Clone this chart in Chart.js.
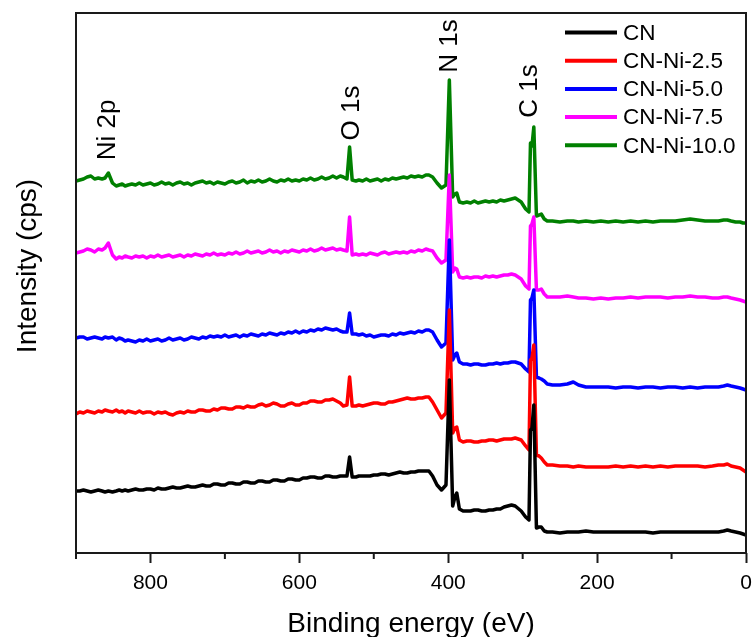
<!DOCTYPE html>
<html>
<head>
<meta charset="utf-8">
<title>XPS survey spectra</title>
<script src="https://cdn.jsdelivr.net/npm/chart.js@4/dist/chart.umd.min.js"></script>
<style>
  html, body { margin: 0; padding: 0; background: #ffffff; }
  #wrap { width: 753px; height: 637px; }
</style>
</head>
<body>
<div id="wrap"><canvas id="xps" width="753" height="637"></canvas></div>
<script>
// Binding energy grid (eV), shared by every spectrum
const bindingEnergy = [
  900, 895, 890, 885, 880, 875, 870, 865, 861, 856.5,
  851, 846, 842, 838, 834, 830, 825, 820, 815, 810,
  805, 800, 795, 790, 785, 780, 775, 770, 765, 760,
  755, 750, 745, 740, 735, 730, 725, 720, 715, 710,
  705, 700, 695, 690, 685, 680, 675, 670, 665, 660,
  655, 650, 645, 640, 635, 630, 625, 620, 615, 610,
  605, 600, 595, 590, 585, 580, 575, 570, 565, 560,
  555, 550, 545, 541, 536, 532.5, 529, 524, 520, 515,
  510, 505, 500, 495, 490, 485, 480, 475, 470, 465,
  460, 455, 450, 445, 440, 435, 430, 426, 421, 415,
  409, 403, 398.5, 394, 391, 388.5, 385, 380, 375, 370,
  365, 360, 355, 350, 345, 340, 335, 330, 325, 320,
  315, 310, 302, 296, 291.5, 289.5, 287.5, 285, 281.5, 278,
  275, 271, 267, 260, 250, 240, 232, 225, 215, 205,
  195, 185, 175, 165, 155, 145, 135, 125, 115, 105,
  95, 85, 75, 65, 55, 45, 37, 30, 25, 20,
  14, 8, 4, 0
];

// Intensities (arbitrary units, spectra stacked with offsets)
const cnCounts = [
  62, 62, 63, 62, 61, 62, 63, 62, 61, 62,
  61, 62, 63, 62, 63, 62, 63, 64, 63, 63,
  64, 64, 63, 65, 64, 64, 65, 66, 65, 65,
  66, 67, 66, 66, 67, 68, 67, 67, 69, 69,
  68, 68, 70, 70, 69, 69, 71, 71, 70, 70,
  72, 72, 71, 71, 73, 73, 72, 72, 74, 74,
  73, 73, 75, 75, 76, 76, 75, 75, 77, 77,
  76, 76, 77, 77, 77, 96, 76, 76, 77, 77,
  77, 77, 78, 78, 79, 79, 78, 79, 80, 81,
  80, 80, 81, 81, 82, 82, 82, 82, 77, 68,
  63, 68, 173, 47, 56, 60, 44, 42, 42, 42,
  43, 43, 42, 42, 43, 43, 44, 44, 46, 47,
  48, 47, 42, 36, 33, 123, 125, 148, 25, 26,
  26, 22, 21, 21, 20, 21, 21, 21, 22, 21,
  21, 21, 21, 21, 21, 21, 21, 20, 21, 21,
  21, 21, 21, 21, 21, 21, 21, 22, 23, 22,
  21, 20, 19, 18
];
const cnNi25Counts = [
  139, 141, 140, 142, 141, 140, 142, 141, 143, 142,
  141, 143, 141, 142, 140, 142, 141, 140, 142, 140,
  141, 141, 139, 141, 140, 141, 139, 138, 140, 141,
  140, 142, 141, 141, 143, 143, 142, 142, 144, 143,
  145, 145, 144, 144, 146, 146, 145, 147, 146, 146,
  148, 149, 147, 148, 150, 149, 147, 147, 149, 150,
  148, 148, 150, 150, 152, 152, 151, 151, 153, 153,
  154, 152, 150, 147, 148, 176, 147, 147, 148, 147,
  148, 149, 150, 150, 149, 149, 151, 151, 152, 153,
  154, 155, 154, 154, 155, 155, 156, 156, 151, 143,
  135, 140, 243, 120, 125, 126, 113, 111, 112, 112,
  111, 111, 112, 112, 113, 113, 112, 113, 114, 114,
  114, 115, 113, 107, 103, 193, 195, 208, 98, 97,
  95, 91, 88, 88, 87, 87, 86, 87, 86, 86,
  86, 86, 87, 86, 87, 86, 87, 86, 87, 86,
  87, 87, 87, 87, 86, 87, 88, 88, 89, 87,
  86, 85, 83, 81
];
const cnNi50Counts = [
  215, 216, 216, 214, 215, 216, 215, 214, 216, 215,
  216, 213, 215, 214, 212, 213, 212, 211, 213, 212,
  214, 212, 213, 214, 212, 213, 215, 213, 214, 215,
  213, 214, 216, 215, 214, 216, 215, 217, 216, 217,
  216, 218, 216, 217, 218, 216, 218, 217, 219, 218,
  217, 219, 218, 220, 219, 218, 220, 219, 221, 220,
  222, 220, 222, 221, 223, 222, 224, 223, 225, 224,
  223, 224, 222, 221, 221, 240, 219, 219, 218, 219,
  217, 218, 216, 217, 218, 218, 217, 219, 218, 220,
  219, 220, 221, 220, 222, 221, 223, 223, 221, 213,
  206, 210, 313, 193, 198, 200, 191, 189, 189, 188,
  189, 189, 188, 188, 189, 189, 190, 189, 190, 190,
  191, 191, 189, 184, 181, 253, 255, 263, 176, 175,
  174, 172, 169, 168, 168, 169, 171, 168, 166, 166,
  166, 166, 165, 166, 166, 165, 166, 166, 165, 166,
  166, 165, 166, 165, 166, 166, 166, 167, 168, 167,
  166, 165, 164, 163
];
const cnNi75Counts = [
  300, 301, 302, 304, 303, 301, 304, 303, 305, 310,
  298, 294, 296, 295, 297, 296, 295, 297, 296, 297,
  295, 297, 296, 298, 296, 297, 298, 296, 297, 298,
  296, 298, 297, 299, 298, 297, 299, 298, 300, 298,
  299, 298, 300, 299, 301, 299, 300, 302, 300, 301,
  302, 300, 301, 303, 301, 302, 300, 302, 301, 303,
  302, 301, 303, 302, 304, 302, 303, 305, 303, 304,
  305, 303, 304, 303, 302, 336, 298, 299, 298, 299,
  298, 300, 299, 298, 300, 301, 299, 300, 301, 300,
  301, 300, 302, 301, 303, 302, 304, 303, 302, 295,
  290, 293, 378, 281, 285, 284, 276, 275, 276, 275,
  276, 276, 275, 277, 276, 277, 276, 277, 278, 278,
  279, 278, 274, 267, 264, 327, 329, 336, 263, 263,
  264, 259, 256, 256, 256, 257, 256, 255, 255, 254,
  255, 254, 255, 255, 256, 255, 256, 256, 256, 255,
  256, 256, 257, 256, 256, 255, 255, 256, 256, 255,
  254, 253, 252, 251
];
const cnNi100Counts = [
  372, 373, 374, 376, 377, 374, 375, 374, 375, 380,
  370, 367, 368, 369, 367, 368, 369, 368, 370, 368,
  369, 370, 368, 369, 371, 369, 370, 368, 370, 371,
  369, 370, 368, 370, 371, 372, 370, 371, 369, 371,
  370, 369, 371, 372, 370, 371, 373, 370, 372, 371,
  373, 371, 372, 374, 372, 371, 373, 372, 374, 372,
  373, 372, 374, 373, 375, 373, 374, 376, 374, 375,
  377, 375, 377, 376, 374, 406, 373, 372, 373, 372,
  374, 372, 373, 374, 372, 374, 373, 375, 374, 375,
  376, 375, 377, 376, 377, 376, 378, 378, 376, 370,
  365, 368, 473, 356, 359, 360, 351, 350, 351, 350,
  352, 350, 351, 352, 351, 352, 351, 353, 352, 353,
  354, 355, 351, 344, 341, 410, 407, 426, 337, 338,
  339, 334, 332, 332, 331, 332, 332, 331, 332, 331,
  332, 331, 332, 331, 332, 331, 332, 331, 332, 332,
  332, 333, 334, 333, 332, 332, 332, 333, 333, 332,
  331, 331, 330, 330
];

const seriesNames = ['CN', 'CN-Ni-2.5', 'CN-Ni-5.0', 'CN-Ni-7.5', 'CN-Ni-10.0'];
const seriesCounts = [cnCounts, cnNi25Counts, cnNi50Counts, cnNi75Counts, cnNi100Counts];
const seriesColors = ['#000000', '#ff0000', '#0000ff', '#ff00ff', '#008000'];

seriesCounts.forEach((arr, i) => {
  if (arr.length !== bindingEnergy.length) {
    throw new Error(seriesNames[i] + ': ' + arr.length + ' values for ' + bindingEnergy.length + ' energies');
  }
});

// Core-level labels: text, binding energy and height where the label is centred
const peakLabels = [
  { text: 'Ni 2p', energy: 857, level: 423 },
  { text: 'O 1s',  energy: 529, level: 440 },
  { text: 'N 1s',  energy: 397.5, level: 507 },
  { text: 'C 1s',  energy: 290, level: 462 }
];

const FONT = '"Liberation Sans", Arial, Helvetica, sans-serif';

const datasets = seriesNames.map((name, i) => ({
  label: name,
  data: bindingEnergy.map((e, k) => ({ x: e, y: seriesCounts[i][k] })),
  borderColor: seriesColors[i],
  backgroundColor: seriesColors[i],
  borderWidth: 3.5,
  pointRadius: 0,
  tension: 0,
  borderJoinStyle: 'round',
  // later samples are painted over earlier ones
  order: i + 1
}));

const decorPlugin = {
  id: 'decor',
  afterDraw(chart) {
    const { ctx, chartArea: a, scales } = chart;
    const xs = scales.x, ys = scales.y;
    ctx.save();

    // minor ticks on the energy axis
    ctx.strokeStyle = '#1a1a1a';
    ctx.lineWidth = 2;
    ctx.beginPath();
    xs.ticks.forEach(t => {
      if (t.value % 200 !== 0) {
        const px = xs.getPixelForValue(t.value);
        ctx.moveTo(px, a.bottom);
        ctx.lineTo(px, a.bottom + 6);
      }
    });
    ctx.stroke();

    // frame
    ctx.strokeRect(a.left, a.top, a.right - a.left, a.bottom - a.top);

    ctx.fillStyle = '#000000';

    // axis titles
    ctx.font = '28px ' + FONT;
    ctx.textAlign = 'center';
    ctx.textBaseline = 'middle';
    ctx.fillText('Binding energy (eV)', (a.left + a.right) / 2, 624);
    ctx.save();
    ctx.translate(28, 266);
    ctx.rotate(-Math.PI / 2);
    ctx.fillText('Intensity (cps)', 0, 0);
    ctx.restore();

    // core-level labels
    ctx.font = '26px ' + FONT;
    peakLabels.forEach(p => {
      ctx.save();
      ctx.translate(xs.getPixelForValue(p.energy), ys.getPixelForValue(p.level));
      ctx.rotate(-Math.PI / 2);
      ctx.fillText(p.text, 0, 0);
      ctx.restore();
    });

    // legend
    ctx.font = '22.5px ' + FONT;
    ctx.textAlign = 'left';
    ctx.lineWidth = 4;
    seriesNames.forEach((name, i) => {
      const yy = 32.5 + i * 28.2;
      ctx.strokeStyle = seriesColors[i];
      ctx.beginPath();
      ctx.moveTo(565, yy);
      ctx.lineTo(617, yy);
      ctx.stroke();
      ctx.fillText(name, 623, yy + 1);
    });

    ctx.restore();
  }
};

new Chart(document.getElementById('xps'), {
  type: 'line',
  data: { datasets },
  plugins: [decorPlugin],
  options: {
    responsive: false,
    animation: false,
    events: [],
    layout: { padding: { left: 0, top: 13, right: 7, bottom: 0 } },
    plugins: { legend: { display: false }, tooltip: { enabled: false } },
    scales: {
      x: {
        type: 'linear',
        min: 0,
        max: 900,
        reverse: true,
        afterFit(scale) {
          scale.height = 84;
          scale.paddingLeft = 0;
          scale.paddingRight = 0;
        },
        border: { display: false },
        grid: {
          display: true,
          drawOnChartArea: false,
          drawTicks: true,
          tickLength: 10,
          tickWidth: 2,
          tickColor: c => (c.tick && c.tick.value % 200 === 0) ? '#1a1a1a' : 'rgba(0,0,0,0)'
        },
        ticks: {
          stepSize: 100,
          autoSkip: false,
          maxRotation: 0,
          padding: 8,
          color: '#000000',
          font: { family: FONT, size: 21 },
          callback: v => (v % 200 === 0 ? String(v) : '')
        }
      },
      y: {
        type: 'linear',
        min: 0,
        max: 540,
        afterFit(scale) { scale.width = 76; },
        border: { display: false },
        grid: { display: false },
        ticks: { display: false }
      }
    }
  }
});
</script>
</body>
</html>
